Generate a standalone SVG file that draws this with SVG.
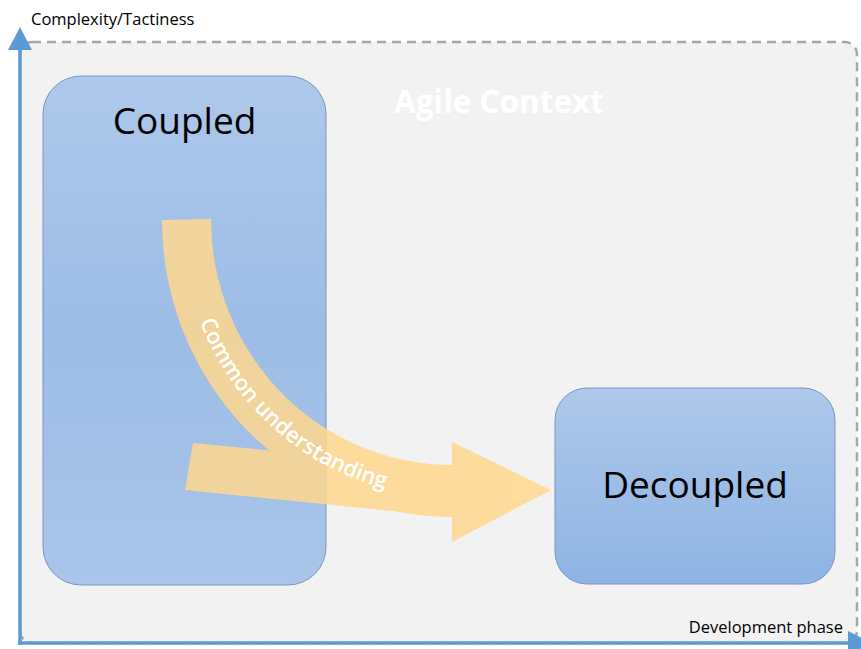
<svg xmlns="http://www.w3.org/2000/svg" width="861" height="649" viewBox="0 0 861 649">
  <defs>
    <linearGradient id="gradCoupled" x1="0" y1="0" x2="0" y2="1">
      <stop offset="0" stop-color="#adc8ea"/>
      <stop offset="0.5" stop-color="#9dbde6"/>
      <stop offset="1" stop-color="#a9c5e9"/>
    </linearGradient>
    <linearGradient id="gradDecoupled" x1="0" y1="0" x2="0" y2="1">
      <stop offset="0" stop-color="#adc8ea"/>
      <stop offset="1" stop-color="#8fb4e3"/>
    </linearGradient>
    <path id="labelArc" d="M 181 220 A 271 277 0 0 0 452 497"/>
  </defs>
  <style>
    .panel { fill: #f2f2f2; stroke: #a6a6a6; stroke-width: 2.5; stroke-dasharray: 9 6; }
    .box { stroke: #7896bf; stroke-width: 1; }
    .axis { stroke: #5b9bd5; stroke-width: 3.5; fill: none; }
    .axis-head { fill: #5b9bd5; }
    .node-label { font-family: "Open Sans", "Liberation Sans", sans-serif; font-size: 37px; fill: #000; text-anchor: middle; }
    .axis-label { font-family: "Open Sans", "Liberation Sans", sans-serif; font-size: 16.5px; fill: #000; }
    .context-label { font-family: "Open Sans", "Liberation Sans", sans-serif; font-size: 31.5px; font-weight: bold; fill: #ffffff; text-anchor: middle; }
    .flow { fill: #ffd88e; }
    .flow-label { font-family: "Open Sans", "Liberation Sans", sans-serif; font-size: 22px; font-weight: 600; fill: #ffffff; text-anchor: middle; }
  </style>

  <rect x="0" y="0" width="861" height="649" fill="#ffffff"/>

  <!-- surrounding context area -->
  <g id="agile-context">
    <rect class="panel" x="20" y="42" width="837" height="601" rx="12" ry="12"/>
    <text class="context-label" x="499" y="113">Agile Context</text>
  </g>

  <!-- axes -->
  <g id="axes">
    <line class="axis" x1="20" y1="645" x2="20" y2="48"/>
    <polygon class="axis-head" points="8,50 20,27 32,50"/>
    <line class="axis" x1="18" y1="643" x2="850" y2="643"/>
    <polygon class="axis-head" points="848,631 872,643 848,655"/>
    <text class="axis-label" x="31" y="25">Complexity/Tactiness</text>
    <text class="axis-label" x="843" y="633" text-anchor="end">Development phase</text>
  </g>

  <g id="coupled">
    <rect class="box" x="43" y="76" width="283" height="509" rx="38" ry="38" fill="url(#gradCoupled)"/>
    <text class="node-label" x="184.5" y="134">Coupled</text>
  </g>

  <g id="decoupled">
    <rect class="box" x="555" y="388" width="280" height="196" rx="32" ry="32" fill="url(#gradDecoupled)"/>
    <text class="node-label" x="695" y="498">Decoupled</text>
  </g>

  <!-- translucent transition arrows -->
  <g id="connectors">
    <g opacity="0.85">
      <path class="flow" d="M 162 220 L 211 219 A 241 246 0 0 0 452 465 L 452 442 L 551 490 L 452 542 L 452 517 A 290 297 0 0 1 162 220 Z"/>
      <path class="flow" d="M 193 443 L 452 468 L 452 517 L 185 490 Z"/>
    </g>
    <text class="flow-label"><textPath href="#labelArc" startOffset="233">Common understanding</textPath></text>
  </g>
</svg>
